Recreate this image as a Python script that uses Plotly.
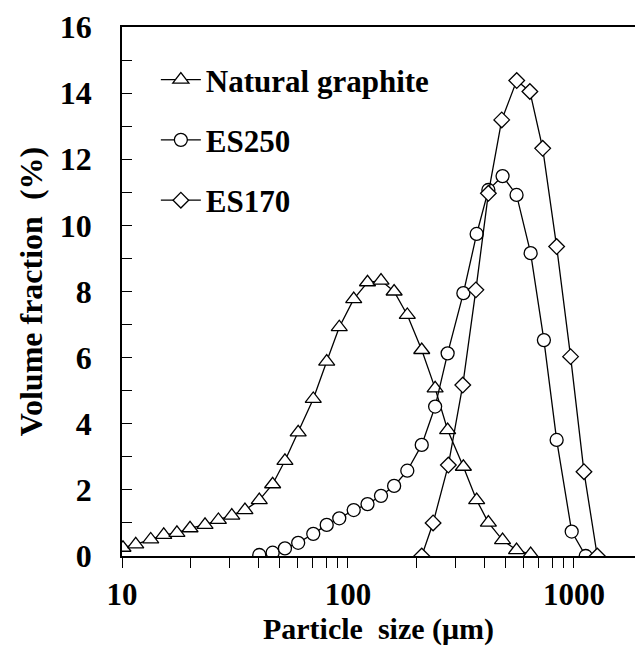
import plotly.graph_objects as go

# Natural graphite (triangles)
ng_size = [10.1, 11.5, 13.4, 15.3, 17.5, 20.0, 23.3, 26.7, 30.6, 35.0, 40.5, 46.4, 52.6, 60.2,
           70.2, 80.5, 91.5, 106, 122, 140, 160, 183, 212, 243, 276, 324, 371, 418, 483, 557, 643]
ng_frac = [0.25, 0.35, 0.50, 0.64, 0.70, 0.84, 0.94, 1.09, 1.22, 1.39, 1.69, 2.17, 2.88, 3.74,
           4.75, 5.88, 6.92, 7.77, 8.28, 8.33, 8.00, 7.29, 6.23, 5.07, 3.81, 2.70, 1.69, 1.01,
           0.48, 0.18, 0.06]

# ES250 (circles)
es250_size = [40.5, 46.4, 52.6, 60.2, 70.2, 80.5, 91.5, 106, 122, 140, 160, 183, 212, 243, 276,
              324, 371, 418, 483, 557, 643, 736, 838, 977, 1127]
es250_frac = [0.03, 0.10, 0.23, 0.40, 0.67, 0.94, 1.14, 1.39, 1.57, 1.82, 2.12, 2.58, 3.36, 4.52,
              6.13, 7.95, 9.74, 11.07, 11.49, 10.92, 9.16, 6.53, 3.51, 0.74, 0.0]

# ES170 (diamonds)
es170_size = [212, 238, 278, 322, 368, 418, 479, 558, 638, 727, 838, 966, 1107, 1268]
es170_frac = [0.0, 1.0, 2.75, 5.17, 8.05, 10.97, 13.19, 14.38, 14.05, 12.33, 9.36, 6.03, 2.55, 0.0]

# x ticks: decade labels plus unlabeled intermediate ticks
x_tick_vals = [10, 20, 30, 40, 50, 60, 70, 80, 90,
               100, 200, 300, 400, 500, 600, 700, 800, 900, 1000]
x_tick_text = ["10", "", "", "", "", "", "", "", "",
               "100", "", "", "", "", "", "", "", "", "1000"]
y_ticks = [0, 2, 4, 6, 8, 10, 12, 14, 16]
y_minor = [1, 3, 5, 7, 9, 11, 13, 15]

FONT = "Liberation Serif"

fig = go.Figure()
series = [
    ("Natural graphite", ng_size, ng_frac, "triangle-up", 14),
    ("ES250", es250_size, es250_frac, "circle", 13),
    ("ES170", es170_size, es170_frac, "diamond", 12),
]
for name, xs, ys, sym, sz in series:
    fig.add_trace(go.Scatter(
        x=xs, y=ys, name=name, mode="lines+markers", legendgroup=name,
        line=dict(color="black", width=1.3),
        marker=dict(symbol=sym, size=sz, color="white", line=dict(color="black", width=1.3)),
    ))

fig.update_layout(
    width=635, height=646,
    margin=dict(l=122, r=0, t=27, b=90),
    paper_bgcolor="white", plot_bgcolor="white",
    font=dict(family=FONT, color="black", size=30),
    showlegend=True,
    legend=dict(
        x=0.066, y=0.951, xanchor="left", yanchor="top",
        bgcolor="rgba(0,0,0,0)", font=dict(family=FONT, size=31, color="black", weight="bold"),
        traceorder="grouped", tracegroupgap=17, itemwidth=40,
    ),
    xaxis=dict(
        type="log", range=[1, 3.27],
        tickvals=x_tick_vals, ticktext=x_tick_text,
        ticks="outside", ticklen=10, tickwidth=1.3, tickcolor="black",
        showline=True, linecolor="black", linewidth=1.5, mirror=True,
        showgrid=False, zeroline=False,
        tickfont=dict(family=FONT, size=31, color="black", weight="bold"),
        ticklabelstandoff=0,
        title=dict(text="Particle\u00a0 size (μm)", font=dict(family=FONT, size=30, color="black", weight="bold"), standoff=3),
    ),
    yaxis=dict(
        range=[0, 16],
        tickvals=y_ticks, ticktext=[str(v) for v in y_ticks],
        ticks="inside", ticklen=10, tickwidth=1.3, tickcolor="black",
        minor=dict(ticks="inside", ticklen=10, tickwidth=1.3, tickcolor="black",
                   tickvals=y_minor, showgrid=False),
        showline=True, linecolor="black", linewidth=1.5, mirror=False,
        showgrid=False, zeroline=False,
        tickfont=dict(family=FONT, size=32, color="black", weight="bold"),
        ticklabelstandoff=22,
        title=dict(text="Volume fraction\u00a0 (%)", font=dict(family=FONT, size=32, color="black", weight="bold"), standoff=8),
    ),
)

fig.write_html("out.html")
